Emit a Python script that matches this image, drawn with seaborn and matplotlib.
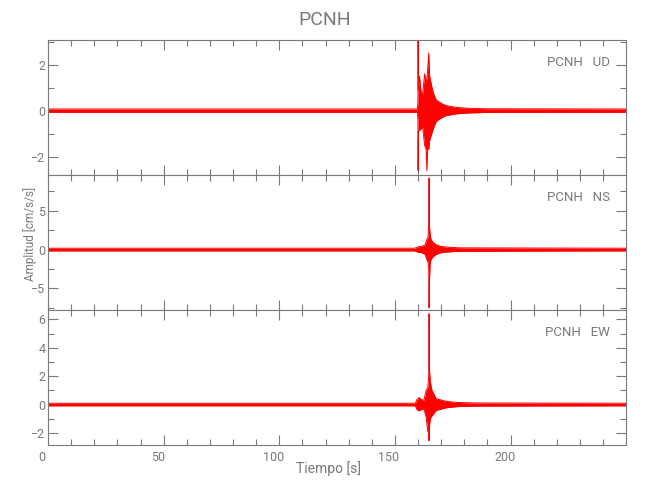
import matplotlib
matplotlib.use("Agg")
import matplotlib.pyplot as plt
import seaborn as sns
import pandas as pd
from matplotlib.ticker import MultipleLocator
from matplotlib.transforms import ScaledTranslation

station = "PCNH"
components = ["UD", "NS", "EW"]

# envelope of each trace: time [s], upper / lower amplitude [cm/s/s]
ud_time = [0, 159.7, 159.95, 160.0, 160.1, 160.6, 161.3, 162.0, 162.8, 163.5, 163.8,
           164.1, 164.6, 165.0, 165.6, 166.5, 167.8, 169.5, 172.0, 176.5, 182.0, 190.0, 250.0]
ud_upper = [0.07, 0.07, 0.4, 3.05, 0.9, 1.5, 0.8, 0.7, 1.6, 1.2, 1.4,
            1.7, 2.5, 1.5, 1.2, 0.8, 0.47, 0.35, 0.22, 0.14, 0.1, 0.08, 0.07]
ud_lower = [-0.07, -0.07, -0.4, -2.6, -0.9, -0.85, -0.8, -0.7, -1.5, -1.7, -2.6,
            -1.6, -1.7, -1.3, -1.1, -0.8, -0.48, -0.35, -0.22, -0.14, -0.1, -0.08, -0.07]

ns_time = [0, 158.5, 160.0, 161.5, 163.0, 163.8, 164.3, 164.6, 164.75, 164.9,
           165.2, 165.6, 166.5, 168.0, 170.0, 173.0, 178.0, 250.0]
ns_upper = [0.17, 0.17, 0.35, 0.4, 0.6, 1.3, 1.6, 3.1, 9.2, 3.0,
            2.0, 1.3, 0.9, 0.6, 0.4, 0.3, 0.22, 0.17]
ns_lower = [-0.17, -0.17, -0.35, -0.4, -0.6, -1.3, -1.6, -2.5, -7.5, -4.2,
            -1.8, -1.3, -0.9, -0.6, -0.4, -0.3, -0.22, -0.17]

ew_time = [0, 158.8, 159.5, 160.5, 161.3, 162.5, 163.5, 164.2, 164.6, 164.75,
           164.9, 165.3, 166.0, 167.8, 172.0, 176.5, 185.0, 250.0]
ew_upper = [0.09, 0.09, 0.35, 0.5, 0.35, 0.3, 1.0, 1.2, 2.0, 6.4,
            2.5, 1.6, 1.0, 0.42, 0.23, 0.15, 0.11, 0.09]
ew_lower = [-0.09, -0.09, -0.35, -0.45, -0.35, -0.3, -0.9, -1.9, -1.9, -2.55,
            -1.5, -1.0, -0.8, -0.42, -0.23, -0.15, -0.11, -0.09]

x_limits = (0, 249.9)
y_limits = [(-2.8, 3.07), (-7.76, 9.57), (-2.85, 6.66)]
y_steps = [(2, 1), (5, 2.5), (2, 1)]


def build_frames():
    frames = []
    for t, up, lo in [(ud_time, ud_upper, ud_lower),
                      (ns_time, ns_upper, ns_lower),
                      (ew_time, ew_upper, ew_lower)]:
        frames.append(pd.DataFrame({"time": t, "upper": up, "lower": lo}))
    return frames


def main():
    sns.set_theme(style="ticks")
    gray = "#7a7a7a"
    plt.rcParams.update({
        "font.family": ["Roboto", "DejaVu Sans"],
        "font.weight": "normal",
        "text.color": gray,
        "axes.edgecolor": gray,
        "axes.labelcolor": gray,
        "xtick.color": gray,
        "ytick.color": gray,
        "axes.linewidth": 0.8,
        "xtick.direction": "in",
        "ytick.direction": "in",
        "xtick.major.size": 7,
        "ytick.major.size": 7,
        "xtick.minor.size": 4,
        "ytick.minor.size": 4,
        "xtick.labelsize": 9,
        "ytick.labelsize": 9,
    })

    fig, axes = plt.subplots(3, 1, figsize=(6.5, 5), dpi=100, sharex=True)
    fig.subplots_adjust(left=0.074, right=0.963, top=0.92, bottom=0.11, hspace=0)

    for ax, df, comp, ylim, (major, minor) in zip(axes, build_frames(), components,
                                                   y_limits, y_steps):
        ax.fill_between(df["time"], df["lower"], df["upper"], color="red", lw=0)
        sns.lineplot(data=df, x="time", y="upper", ax=ax, color="red", lw=0.7, sort=False)
        sns.lineplot(data=df, x="time", y="lower", ax=ax, color="red", lw=0.7, sort=False)
        ax.set_xlim(*x_limits)
        ax.set_ylim(*ylim)
        ax.xaxis.set_major_locator(MultipleLocator(50))
        ax.xaxis.set_minor_locator(MultipleLocator(10))
        ax.yaxis.set_major_locator(MultipleLocator(major))
        ax.yaxis.set_minor_locator(MultipleLocator(minor))
        ax.tick_params(which="both", top=True, right=True, width=0.8)
        ax.tick_params(axis="y", pad=2)
        ax.tick_params(axis="x", pad=4)
        ax.set_xlabel("")
        ax.set_ylabel("")
        ax.text(0.972, 0.835, f"{station}   {comp}", transform=ax.transAxes,
                ha="right", va="center", fontsize=9.5, color=gray)
        for s in ax.spines.values():
            s.set_visible(True)

    for ax in axes[:-1]:
        ax.tick_params(labelbottom=False)

    # x labels sit a little left of their ticks in the reference
    shift = ScaledTranslation(-0.06, 0, fig.dpi_scale_trans)
    for lab in axes[-1].get_xticklabels():
        lab.set_transform(lab.get_transform() + shift)

    fig.text(0.5, 1 - 20 / 500, station, ha="center", va="center", fontsize=14, color=gray)
    fig.text(0.505, 1 - 469 / 500, "Tiempo [s]", ha="center", va="center", fontsize=10, color=gray)
    fig.text(30 / 650, 1 - 234 / 500, "Amplitud [cm/s/s]", ha="center", va="center",
             rotation=90, fontsize=8.5, color=gray)

    fig.savefig("out.png", dpi=100)


if __name__ == "__main__":
    main()
